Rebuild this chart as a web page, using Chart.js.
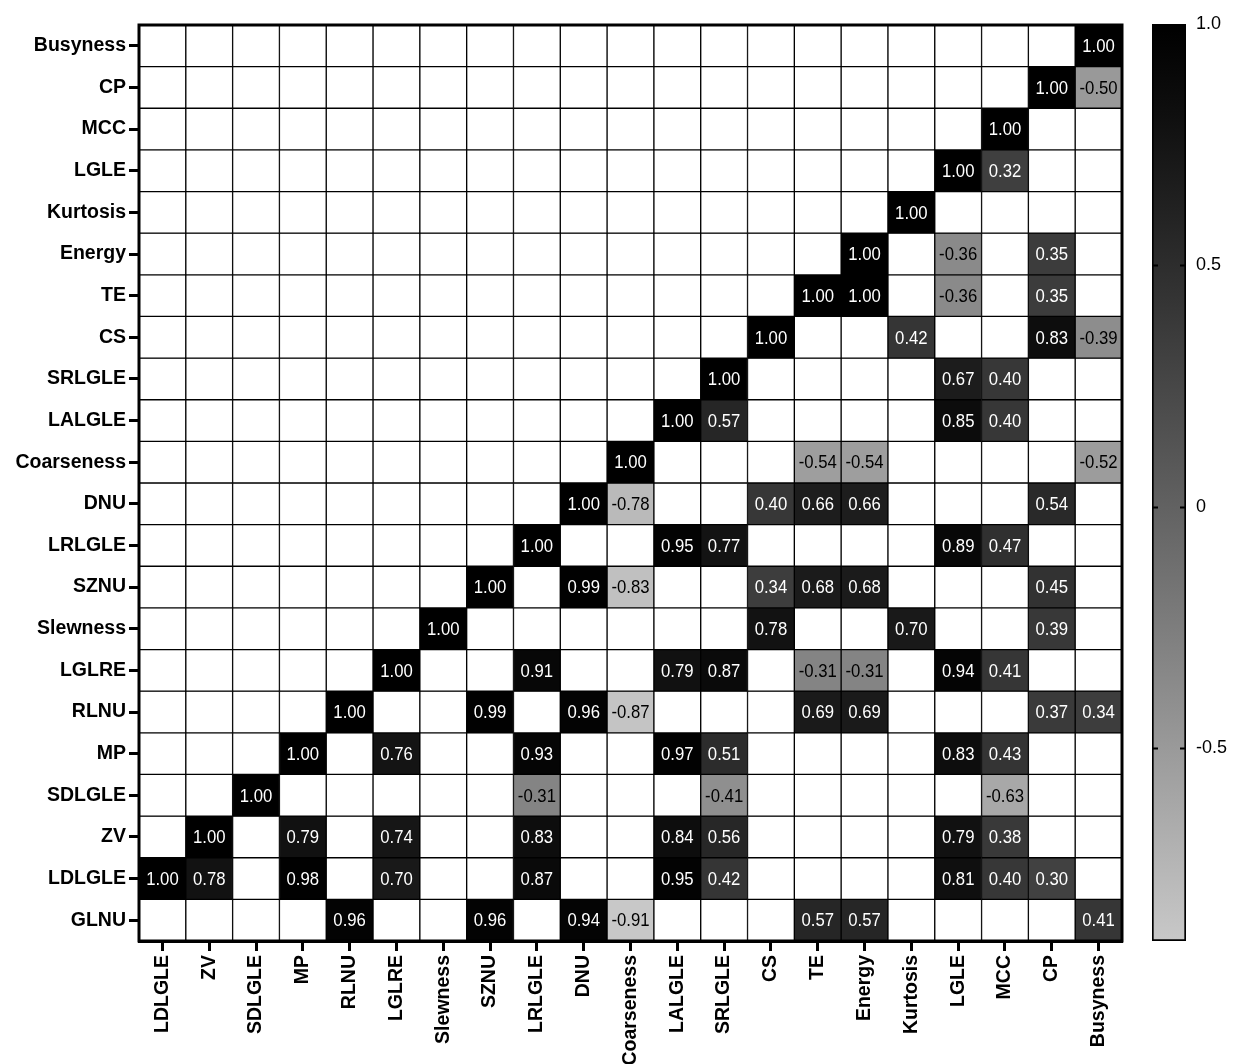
<!DOCTYPE html>
<html>
<head>
<meta charset="utf-8">
<script src="https://cdn.jsdelivr.net/npm/chart.js@4.4.0/dist/chart.umd.min.js"></script>
<style>
  html, body { margin: 0; padding: 0; background: #fff; }
  #wrap { position: relative; width: 1235px; height: 1064px; }
  #main { position: absolute; left: 0; top: 0; width: 1235px; height: 1064px; }
  #bar { position: absolute; left: 1140px; top: 0; width: 95px; height: 1064px; }
</style>
</head>
<body>
<div id="wrap">
  <div id="main"><canvas id="heat"></canvas></div>
  <div id="bar"><canvas id="scale"></canvas></div>
</div>
<script>
// 列（x軸）
const xLabels = ["LDLGLE", "ZV", "SDLGLE", "MP", "RLNU", "LGLRE", "Slewness", "SZNU", "LRLGLE", "DNU",
  "Coarseness", "LALGLE", "SRLGLE", "CS", "TE", "Energy", "Kurtosis", "LGLE", "MCC", "CP", "Busyness"];

// 行（y軸、上から順）
const yLabels = ["Busyness", "CP", "MCC", "LGLE", "Kurtosis", "Energy", "TE", "CS", "SRLGLE", "LALGLE",
  "Coarseness", "DNU", "LRLGLE", "SZNU", "Slewness", "LGLRE", "RLNU", "MP", "SDLGLE", "ZV", "LDLGLE", "GLNU"];

const _ = null;
// 相関係数（行は yLabels と同じ順、空欄は null）
const values = [
  [_, _, _, _, _, _, _, _, _, _, _, _, _, _, _, _, _, _, _, _, 1.00],
  [_, _, _, _, _, _, _, _, _, _, _, _, _, _, _, _, _, _, _, 1.00, -0.50],
  [_, _, _, _, _, _, _, _, _, _, _, _, _, _, _, _, _, _, 1.00, _, _],
  [_, _, _, _, _, _, _, _, _, _, _, _, _, _, _, _, _, 1.00, 0.32, _, _],
  [_, _, _, _, _, _, _, _, _, _, _, _, _, _, _, _, 1.00, _, _, _, _],
  [_, _, _, _, _, _, _, _, _, _, _, _, _, _, _, 1.00, _, -0.36, _, 0.35, _],
  [_, _, _, _, _, _, _, _, _, _, _, _, _, _, 1.00, 1.00, _, -0.36, _, 0.35, _],
  [_, _, _, _, _, _, _, _, _, _, _, _, _, 1.00, _, _, 0.42, _, _, 0.83, -0.39],
  [_, _, _, _, _, _, _, _, _, _, _, _, 1.00, _, _, _, _, 0.67, 0.40, _, _],
  [_, _, _, _, _, _, _, _, _, _, _, 1.00, 0.57, _, _, _, _, 0.85, 0.40, _, _],
  [_, _, _, _, _, _, _, _, _, _, 1.00, _, _, _, -0.54, -0.54, _, _, _, _, -0.52],
  [_, _, _, _, _, _, _, _, _, 1.00, -0.78, _, _, 0.40, 0.66, 0.66, _, _, _, 0.54, _],
  [_, _, _, _, _, _, _, _, 1.00, _, _, 0.95, 0.77, _, _, _, _, 0.89, 0.47, _, _],
  [_, _, _, _, _, _, _, 1.00, _, 0.99, -0.83, _, _, 0.34, 0.68, 0.68, _, _, _, 0.45, _],
  [_, _, _, _, _, _, 1.00, _, _, _, _, _, _, 0.78, _, _, 0.70, _, _, 0.39, _],
  [_, _, _, _, _, 1.00, _, _, 0.91, _, _, 0.79, 0.87, _, -0.31, -0.31, _, 0.94, 0.41, _, _],
  [_, _, _, _, 1.00, _, _, 0.99, _, 0.96, -0.87, _, _, _, 0.69, 0.69, _, _, _, 0.37, 0.34],
  [_, _, _, 1.00, _, 0.76, _, _, 0.93, _, _, 0.97, 0.51, _, _, _, _, 0.83, 0.43, _, _],
  [_, _, 1.00, _, _, _, _, _, -0.31, _, _, _, -0.41, _, _, _, _, _, -0.63, _, _],
  [_, 1.00, _, 0.79, _, 0.74, _, _, 0.83, _, _, 0.84, 0.56, _, _, _, _, 0.79, 0.38, _, _],
  [1.00, 0.78, _, 0.98, _, 0.70, _, _, 0.87, _, _, 0.95, 0.42, _, _, _, _, 0.81, 0.40, 0.30, _],
  [_, _, _, _, 0.96, _, _, 0.96, _, 0.94, -0.91, _, _, _, 0.57, 0.57, _, _, _, _, 0.41],
];

// カラーバー
const cbMin = -0.9;
const cbMax = 1.0;
const cbTicks = [-0.5, 0, 0.5, 1.0];
const cbTickLabels = ["-0.5", "0", "0.5", "1.0"];

const FONT = '"Liberation Sans", Arial, Helvetica, sans-serif';

// 値 → グレー（1.0 で黒、下端で明るいグレー）
function gray(v) {
  const t = Math.min(1, Math.max(0, (cbMax - v) / (cbMax - cbMin)));
  const g = Math.round(Math.pow(t, 1.12) * 200);
  return `rgb(${g},${g},${g})`;
}

// セル内の数値
const cellText = {
  id: "cellText",
  afterDatasetsDraw(chart) {
    const c = chart.ctx;
    chart.data.datasets.forEach((ds, i) => {
      chart.getDatasetMeta(i).data.forEach((bar, j) => {
        const v = values[i][j];
        if (v === null) return;
        const { x, y, base } = bar.getProps(["x", "y", "base"], true);
        c.save();
        c.translate(x, (y + base) / 2);
        c.scale(0.88, 1);
        c.font = `19px ${FONT}`;
        c.fillStyle = v < 0 ? "#000" : "#fff";
        c.textAlign = "center";
        c.textBaseline = "middle";
        c.fillText(v.toFixed(2), 0, 1);
        c.restore();
      });
    });
  },
};

// 外枠
const frame = {
  id: "frame",
  afterDraw(chart) {
    const { ctx, chartArea: a } = chart;
    ctx.save();
    ctx.strokeStyle = "#000";
    ctx.lineWidth = 3;
    ctx.strokeRect(a.left, a.top, a.right - a.left, a.bottom - a.top);
    ctx.restore();
  },
};

const nRows = yLabels.length;

new Chart(document.getElementById("heat"), {
  type: "bar",
  data: {
    labels: xLabels,
    datasets: yLabels.map((name, i) => {
      const r = nRows - 1 - i;
      return {
        label: name,
        data: xLabels.map(() => [r - 0.5, r + 0.5]),
        backgroundColor: (ctx) => {
          const v = values[i][ctx.dataIndex];
          return v === null ? "#fff" : gray(v);
        },
        borderColor: "#000",
        borderWidth: 1,
        borderSkipped: false,
        barPercentage: 1,
        categoryPercentage: 1,
      };
    }),
  },
  options: {
    responsive: true,
    maintainAspectRatio: false,
    animation: false,
    layout: { padding: { top: 25, right: 113, left: 0, bottom: 0 } },
    plugins: { legend: { display: false }, tooltip: { enabled: false } },
    scales: {
      x: {
        stacked: true,
        offset: true,
        grid: { offset: false, drawOnChartArea: false, color: "#000", tickColor: "#000", tickWidth: 3, tickLength: 10 },
        border: { color: "#000", width: 3 },
        ticks: {
          color: "#000",
          font: { family: FONT, size: 19.5, weight: "bold" },
          maxRotation: 90,
          minRotation: 90,
          autoSkip: false,
          padding: 4,
        },
        afterFit: (s) => { s.height = 123; },
      },
      y: {
        type: "linear",
        min: -0.5,
        max: nRows - 0.5,
        afterBuildTicks: (s) => { s.ticks = yLabels.map((n, i) => ({ value: i })); },
        grid: { drawOnChartArea: false, color: "#000", tickColor: "#000", tickWidth: 3, tickLength: 10 },
        border: { color: "#000", width: 3 },
        ticks: {
          color: "#000",
          font: { family: FONT, size: 19.5, weight: "bold" },
          autoSkip: false,
          padding: 3,
          callback: (v) => yLabels[nRows - 1 - v],
        },
        afterFit: (s) => { s.width = 139; },
      },
    },
  },
  plugins: [cellText, frame],
});

// カラーバーの内側の目盛り
const cbMarks = {
  id: "cbMarks",
  afterDatasetsDraw(chart) {
    const { ctx, chartArea: a } = chart;
    const ys = chart.scales.y;
    ctx.save();
    ctx.strokeStyle = "#000";
    ctx.lineWidth = 2;
    cbTicks.filter((v) => v < cbMax).forEach((v) => {
      const py = Math.round(ys.getPixelForValue(v)) + 0.5;
      ctx.beginPath();
      ctx.moveTo(a.left, py); ctx.lineTo(a.left + 6, py);
      ctx.moveTo(a.right - 6, py); ctx.lineTo(a.right, py);
      ctx.stroke();
    });
    ctx.restore();
  },
};

new Chart(document.getElementById("scale"), {
  type: "bar",
  data: {
    labels: [""],
    datasets: [{
      data: [[cbMin, cbMax]],
      backgroundColor: (ctx) => {
        const { chart } = ctx;
        const ys = chart.scales.y;
        if (!chart.chartArea || !ys) return "#888";
        const g = chart.ctx.createLinearGradient(0, ys.getPixelForValue(cbMax), 0, ys.getPixelForValue(cbMin));
        for (let k = 0; k <= 10; k++) {
          g.addColorStop(k / 10, gray(cbMax - (cbMax - cbMin) * k / 10));
        }
        return g;
      },
      borderColor: "#000",
      borderWidth: 2,
      borderSkipped: false,
      barPercentage: 1,
      categoryPercentage: 1,
    }],
  },
  options: {
    responsive: true,
    maintainAspectRatio: false,
    animation: false,
    layout: { padding: { top: 24, left: 12, bottom: 123, right: 0 } },
    plugins: { legend: { display: false }, tooltip: { enabled: false } },
    scales: {
      x: { display: false },
      y: {
        position: "right",
        min: cbMin,
        max: cbMax,
        afterBuildTicks: (s) => { s.ticks = cbTicks.map((v) => ({ value: v })); },
        grid: { display: false, drawTicks: false },
        border: { display: false },
        ticks: {
          color: "#000",
          font: { family: FONT, size: 18 },
          padding: 10,
          callback: (v) => cbTickLabels[cbTicks.indexOf(v)],
        },
        afterFit: (s) => { s.width = 49; },
      },
    },
  },
  plugins: [cbMarks],
});
</script>
</body>
</html>
